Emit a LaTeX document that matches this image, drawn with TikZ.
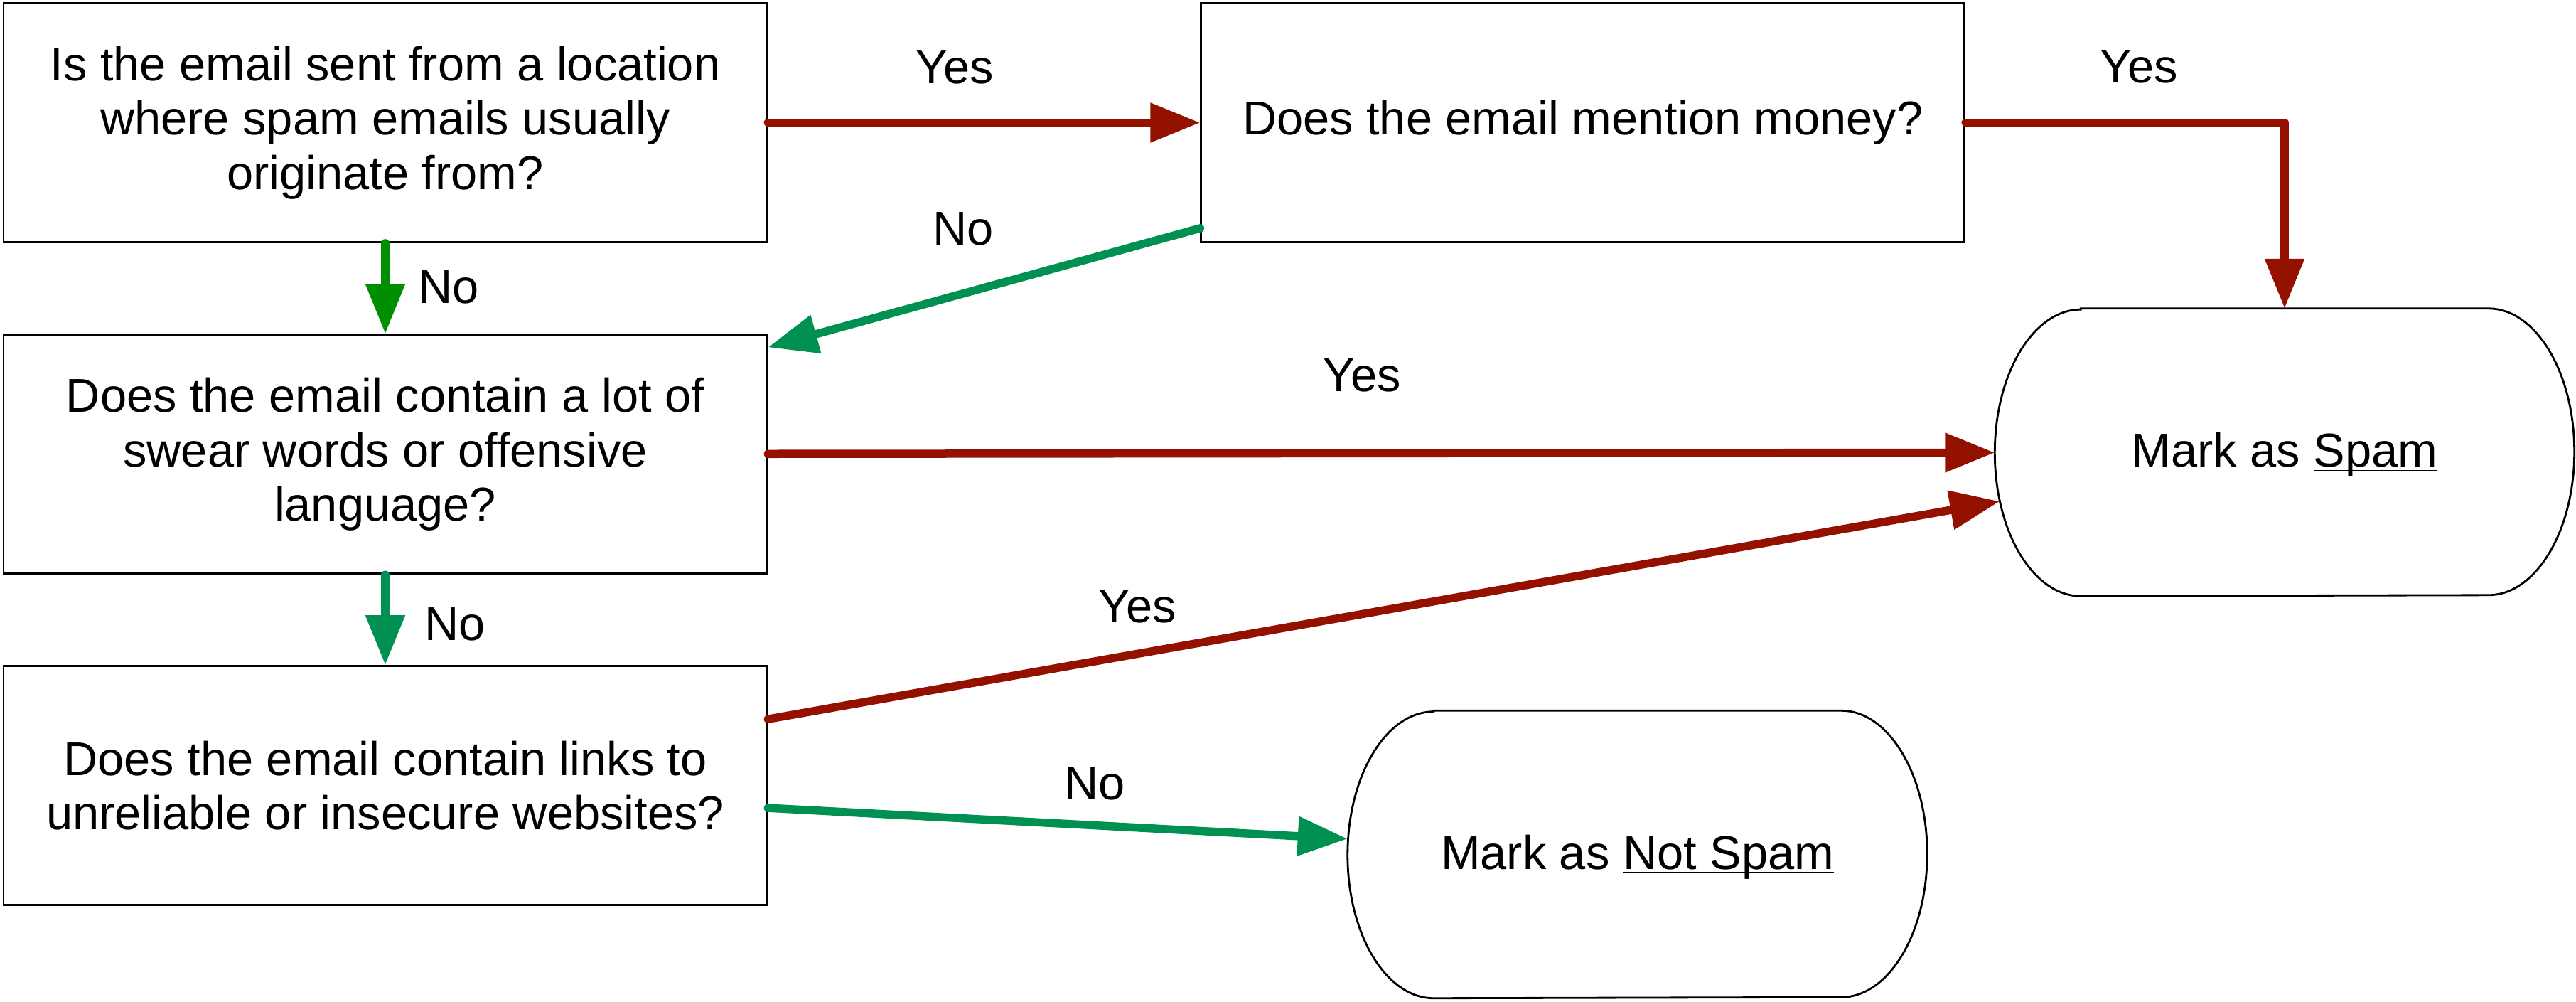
\documentclass[tikz,border=0pt]{standalone}
\usepackage{fontspec}
\setmainfont{Liberation Sans}
\usetikzlibrary{arrows.meta,positioning}
\definecolor{cayenne}{HTML}{941100}
\definecolor{clover}{HTML}{008F00}
\definecolor{moss}{HTML}{009051}

\begin{document}
\begin{tikzpicture}[font=\fontsize{19}{21.8}\selectfont,
    question/.style={draw, line width=0.8pt, minimum width=10.74cm, minimum height=3.36cm, align=center, inner sep=0pt},
    terminal/.style={minimum width=8.14cm, minimum height=4.03cm, inner sep=0pt},
    link/.style={line width=0.115cm, line cap=round, line join=round, -{Triangle[length=7mm,width=5.3mm]}},
    yes/.style={link, cayenne},
    no/.style={link, moss},
    tag/.style={anchor=base}]
      \useasboundingbox (0,0) rectangle (36.24,-14.08);

      \node (mail) at (5.42cm,-1.725cm) [question] {Is the email sent from a location\\where spam emails usually\\originate from?};
      \node (money) [question, right=6.08cm of mail] {Does the email mention money?};
      \node (swear) [question, below=1.275cm of mail] {Does the email contain a lot of\\swear words or offensive\\language?};
      \node (links) [question, below=1.27cm of swear] {Does the email contain links to\\unreliable or insecure websites?};
      \node (spam) at (32.14cm,-6.36cm) [terminal] {Mark as \underline{\smash{Spam}}};
      \node (notspam) at (23.035cm,-12.015cm) [terminal] {Mark as \underline{\smash{Not Spam}}};

      %% flat top and bottom, half ellipses on the sides
      \foreach \t in {spam,notspam}
        \draw[line width=0.8pt] ([xshift=1.21cm]\t.north west) -- ([xshift=-1.21cm]\t.north east)
          arc[start angle=90, end angle=-90, x radius=1.21cm, y radius=2.015cm]
          -- ([xshift=1.21cm]\t.south west)
          arc[start angle=270, end angle=90, x radius=1.21cm, y radius=2.015cm] -- cycle;

      \node (yesmoney) at (13.43cm,-1.17cm) [tag] {Yes};
      \node (yesspam1) at (30.09cm,-1.16cm) [tag] {Yes};
      \node (nomoney) at (13.55cm,-3.44cm) [tag] {No};
      \node (nomail) at (6.31cm,-4.26cm) [tag] {No};
      \node (yesspam2) at (19.16cm,-5.50cm) [tag] {Yes};
      \node (noswear) at (6.40cm,-9.00cm) [tag] {No};
      \node (yesspam3) at (16.00cm,-8.75cm) [tag] {Yes};
      \node (nolinks) at (15.40cm,-11.24cm) [tag] {No};

      \draw[yes] (mail) -- (money);
      \draw[yes] (money.east) -| (spam.north);
      \draw[no] ([yshift=0.21cm]money.south west) -- ([yshift=-0.19cm]swear.north east);
      \draw[link, clover] (mail) -- (swear);
      \draw[yes] (swear) -- (spam);
      \draw[no] (swear) -- (links);
      \draw[yes] ([yshift=-0.76cm]links.north east) -- ([shift={(0.07cm,-0.69cm)}]spam.west);
      \draw[no] ([yshift=-0.315cm]links.east) -- ([yshift=0.22cm]notspam.west);

    \end{tikzpicture}
\end{document}
